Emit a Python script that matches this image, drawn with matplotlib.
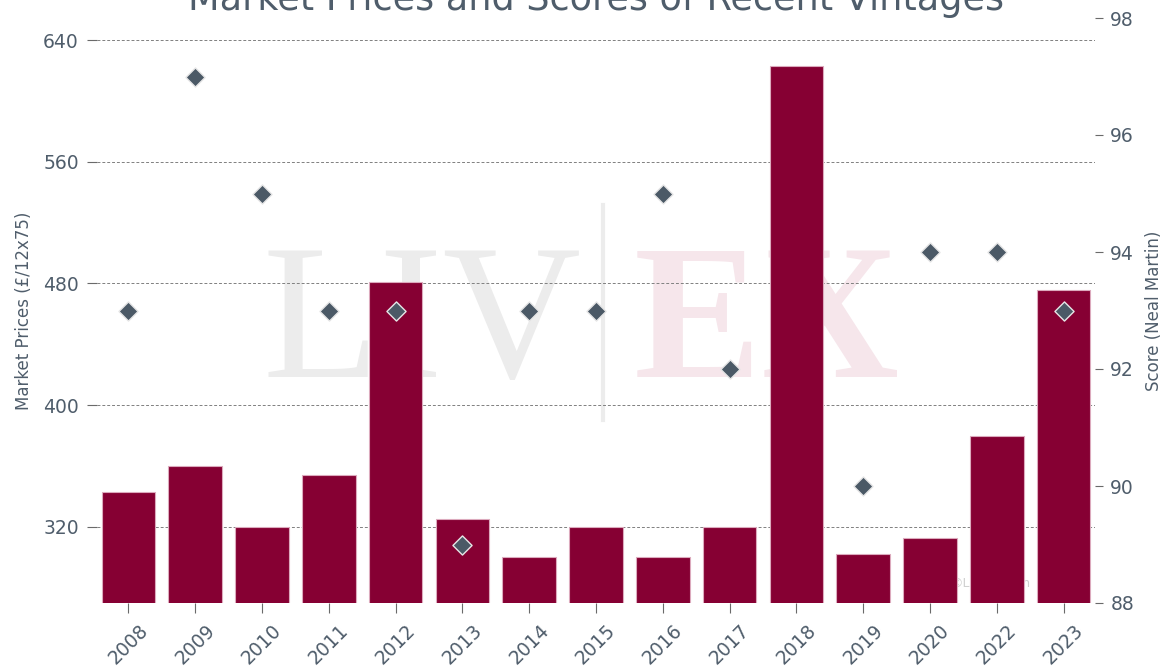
import numpy as np
from matplotlib import pyplot as plt

# Vintages, market prices (GBP per 12x75) and Neal Martin scores
vintages = ['2008', '2009', '2010', '2011', '2012', '2013', '2014', '2015',
            '2016', '2017', '2018', '2019', '2020', '2022', '2023']
prices = [343, 360, 320, 354, 481, 325, 300, 320, 300, 320, 623, 302, 313, 380, 476]
scores = [93, 97, 95, 93, 93, 89, 93, 93, 95, 92, np.nan, 90, 94, 94, 93]

text_color = '#4f5d6b'
bar_color = '#860033'
marker_color = '#4b5966'

fig = plt.figure(figsize=(11.7, 6.71), dpi=100)
ax1 = fig.add_axes([97 / 1170, 68 / 671, 998 / 1170, 585 / 671])
x = np.arange(len(vintages))

# Watermark behind everything
ax1.text(0.326, 0.465, 'LIV', transform=ax1.transAxes, ha='center', va='center',
         fontsize=138, family='Liberation Serif', color='#ececec', zorder=0)
ax1.text(0.671, 0.465, 'EX', transform=ax1.transAxes, ha='center', va='center',
         fontsize=138, family='Liberation Serif', color='#f6e6eb', zorder=0,
         fontweight='bold')
ax1.plot([0.507, 0.507], [0.313, 0.68], transform=ax1.transAxes,
         color='#ececec', lw=3, zorder=0)
ax1.text(0.895, 0.034, '\u00a9Liv-ex.com', transform=ax1.transAxes, ha='center',
         va='center', fontsize=9, color='#d0d0d0', zorder=0)

# Bars
ax1.bar(x, prices, width=0.8, color=bar_color, edgecolor='#dcaabd',
        linewidth=0.8, zorder=2)
ax1.set_axisbelow(True)
ax1.yaxis.grid(True, linestyle=(0, (3, 2)), color='#808080', linewidth=0.7)
ax1.set_ylim(270, 654.5)
ax1.set_yticks([320, 400, 480, 560, 640])
ax1.set_xlim(-0.47, 14.47)
ax1.set_xticks(x)
ax1.set_xticklabels(vintages, rotation=45, ha='center')
ax1.set_ylabel('Market Prices (£/12x75)', fontsize=12, color=text_color,
               labelpad=7)
ax1.tick_params(axis='both', labelsize=13.5, colors='#6a6a6a',
                labelcolor=text_color, length=7, pad=6)
for spine in ax1.spines.values():
    spine.set_visible(False)

# Scores on the right axis
ax2 = ax1.twinx()
ax2.scatter(x, scores, marker='D', s=95, color=marker_color,
            edgecolor='#e6e6e6', linewidth=1, zorder=3)
ax2.set_ylim(88, 98)
ax2.set_yticks([88, 90, 92, 94, 96, 98])
ax2.set_ylabel('Score (Neal Martin)', fontsize=12, color=text_color,
               labelpad=8)
ax2.tick_params(axis='y', labelsize=13.5, colors='#6a6a6a',
                labelcolor=text_color, length=6, pad=5)
for spine in ax2.spines.values():
    spine.set_visible(False)

ax1.set_title('Market Prices and Scores of Recent Vintages', fontsize=26.4,
              color=text_color, pad=6)

plt.savefig('out.png', dpi=100)
